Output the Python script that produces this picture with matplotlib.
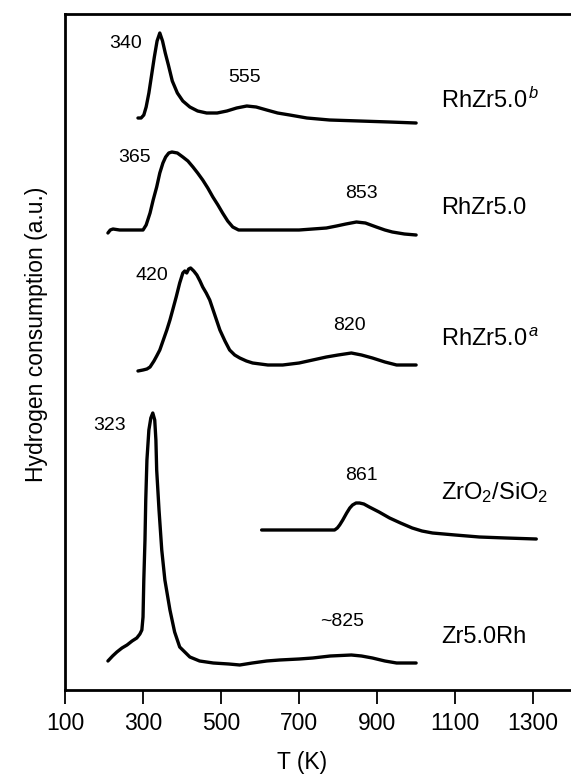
import numpy as np
import matplotlib
matplotlib.use("Agg")
import matplotlib.pyplot as plt

plt.rcParams['font.family'] = ['Liberation Sans', 'DejaVu Sans']
plt.rcParams['mathtext.fontset'] = 'custom'
plt.rcParams['mathtext.rm'] = 'Liberation Sans'
plt.rcParams['mathtext.it'] = 'Liberation Sans:italic'

# TPR traces: temperature (K) and signal above each baseline (a.u.)
t_rhzr_b = [287, 295, 302, 308, 315, 322, 329, 336, 343, 350, 357, 365, 375, 388, 402,
            420, 440, 463, 490, 515, 540, 566, 590, 617, 645, 676, 720, 778, 855, 932, 1000]
s_rhzr_b = [5, 5, 8, 16, 30, 48, 66, 82, 90, 82, 70, 58, 42, 30, 22,
            16, 12, 10, 10, 12, 15, 17, 16, 13, 10, 8, 5, 3, 2, 1, 0]

t_rhzr = [210, 216, 223, 240, 270, 300, 308, 318, 326, 335, 343, 351, 358, 366, 374,
          388, 402, 415, 428, 440, 453, 466, 479, 492, 504, 517, 530, 545, 573,
          658, 700, 735, 770, 796, 820, 847, 870, 898, 920, 939, 970, 1000]
s_rhzr = [2, 5, 6, 5, 5, 5, 10, 22, 35, 48, 62, 72, 78, 82, 83,
          82, 78, 74, 68, 62, 55, 47, 38, 30, 22, 14, 8, 5, 5,
          5, 5, 6, 7, 9, 11, 13, 12, 8, 5, 3, 1, 0]

t_rhzr_a = [287, 300, 310, 318, 328, 335, 343, 352, 361, 369, 376, 385, 394, 402, 407,
            412, 417, 422, 430, 438, 446, 453, 462, 471, 484, 497, 510, 522, 535, 548,
            565, 581, 620, 658, 700, 735, 770, 800, 834, 860, 888, 920, 950, 1000]
s_rhzr_a = [-6, -5, -4, -2, 4, 9, 15, 25, 35, 45, 55, 68, 82, 92, 94,
            92, 96, 97, 94, 90, 84, 78, 72, 65, 50, 35, 24, 15, 10, 7,
            4, 2, 0, 0, 2, 5, 8, 10, 12, 10, 7, 3, 0, 0]

t_zro2 = [604, 700, 791, 798, 804, 812, 822, 830, 837, 846, 855, 866, 880, 905, 932,
          960, 990, 1015, 1042, 1100, 1162, 1230, 1308]
s_zro2 = [9, 9, 9, 11, 14, 19, 26, 31, 34, 36, 36, 35, 32, 27, 21,
          16, 11, 8, 6, 4, 2, 1, 0]

t_zr_rh = [210, 222, 233, 246, 259, 272, 284, 292, 297, 300, 302, 305, 307, 310, 315,
           320, 325, 330, 333, 335, 341, 348, 356, 369, 381, 394, 420, 445, 480, 520,
           548, 580, 617, 650, 700, 735, 780, 834, 860, 888, 920, 950, 1000]
s_zr_rh = [2, 7, 11, 15, 18, 22, 25, 29, 33, 46, 83, 123, 163, 203, 233,
           245, 250, 243, 223, 193, 153, 113, 83, 53, 31, 16, 6, 2, 0, -1,
           -2, 0, 2, 3, 4, 5, 7, 8, 7, 5, 2, 0, 0]

offsets = [567, 455, 325, 151, 27]
names = [r"RhZr5.0$^{\,b}$", "RhZr5.0", r"RhZr5.0$^{\,a}$", r"ZrO$_2$/SiO$_2$", "Zr5.0Rh"]
name_y = [590, 482, 350, 197, 53]

peak_labels = ["340", "555", "365", "853", "420", "820", "323", "861", "~825"]
peak_x = [256, 561, 279, 860, 323, 829, 215, 860, 811]
peak_y = [647, 612, 532, 497, 415, 365, 265, 215, 68]

fig = plt.figure(figsize=(5.71, 7.77), dpi=100)
ax = fig.add_axes([65 / 571, 87 / 777, 1 - 65 / 571, 676 / 777])

traces = [(t_rhzr_b, s_rhzr_b), (t_rhzr, s_rhzr), (t_rhzr_a, s_rhzr_a),
          (t_zro2, s_zro2), (t_zr_rh, s_zr_rh)]
for (t, s), off in zip(traces, offsets):
    ax.plot(t, np.array(s) + off, color='black', lw=2.4,
            solid_joinstyle='round', solid_capstyle='round')

for name, y in zip(names, name_y):
    ax.text(1065, y, name, fontsize=17, va='center', ha='left')

for lab, x, y in zip(peak_labels, peak_x, peak_y):
    ax.text(x, y, lab, fontsize=14, va='center', ha='center')

ax.set_xlim(100, 1397)
ax.set_ylim(0, 676)
ax.set_xticks([100, 300, 500, 700, 900, 1100, 1300])
ax.set_yticks([])
ax.tick_params(axis='x', direction='out', length=10, width=1.3, labelsize=16.5, pad=6)
ax.spines['right'].set_visible(False)
for sp in ['left', 'bottom', 'top']:
    ax.spines[sp].set_linewidth(2)

fig.text(302 / 571, 1 - 763 / 777, "T (K)", fontsize=16.5, ha='center', va='center')
fig.text(37 / 571, 1 - 334 / 777, "Hydrogen consumption (a.u.)", fontsize=16.5,
         rotation=90, ha='center', va='center')

fig.savefig("out.png", dpi=100)
